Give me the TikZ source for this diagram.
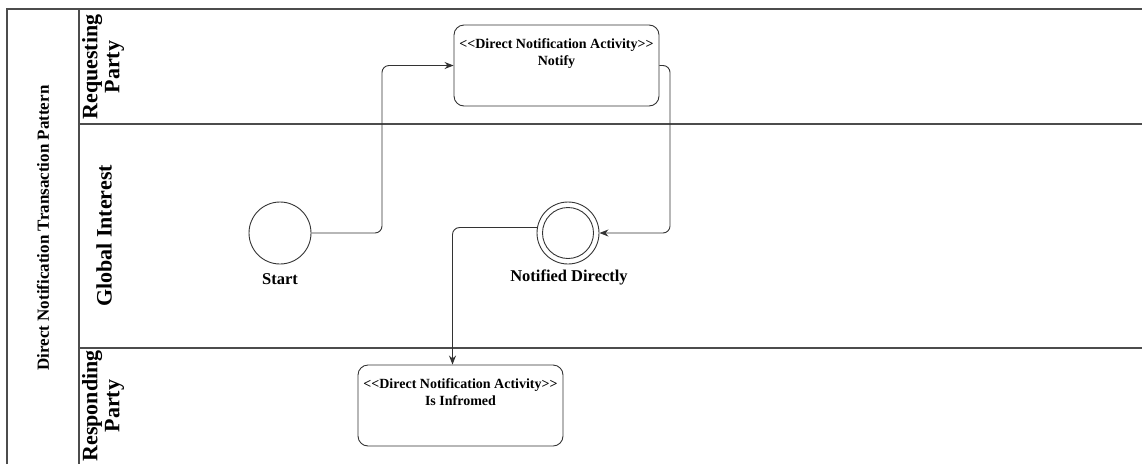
\documentclass[tikz,border=0pt]{standalone}
\usepackage{fontspec}
\setmainfont{Liberation Serif}
\usetikzlibrary{arrows.meta}
\tikzset{
  lane/.style={draw=black!70, line width=1.1pt},
  actbox/.style={draw=black!80, line width=0.9pt, rounded corners=10pt, minimum width=205pt, minimum height=81pt, inner sep=0pt},
  acttext/.style={font=\fontsize{14}{17}\selectfont\bfseries, align=center, inner sep=0pt, anchor=north},
  evt/.style={circle, draw=black!80, line width=0.9pt, inner sep=0pt},
  evtlabel/.style={font=\fontsize{16.5}{19}\selectfont\bfseries, inner sep=0pt},
  lanelabel/.style={font=\fontsize{22}{22}\selectfont\bfseries, align=center, rotate=90, inner sep=0pt},
  flow/.style={draw=black!80, line width=0.9pt, rounded corners=7pt, -{Stealth[length=9pt,width=7pt]}},
}
\begin{document}
\begin{tikzpicture}[x=1pt,y=1pt]
\useasboundingbox (0,0) rectangle (1142,-464);
% pool frame
\coordinate (tl) at (7,-9);
\coordinate (bl) at (7,-464);
\coordinate (tr) at (1142,-9);
\draw[lane] (bl) -- (tl) -- (tr);
\draw[lane] (79,-9) -- (79,-464);
\draw[lane] (79,-124) -- (1142,-124);
\draw[lane] (79,-348) -- (1142,-348);
% labels
\node[font=\fontsize{17}{20}\selectfont\bfseries, rotate=90, inner sep=0pt] (pool) at (43,-228) {Direct Notification Transaction Pattern};
\node[lanelabel] (req) at (103,-67) {Requesting\\Party};
\node[lanelabel] (glob) at (104,-236) {Global Interest};
\node[lanelabel] (resp) at (103,-406) {Responding\\Party};
% nodes
\node[actbox] (notify) at (556.5,-65.5) {};
\node[acttext] at ([yshift=-14pt]notify.north) {{<}{<}Direct Notification Activity{>}{>}\\Notify};
\node[actbox] (inf) at (460.5,-405.5) {};
\node[acttext] at ([yshift=-14pt]inf.north) {{<}{<}Direct Notification Activity{>}{>}\\Is Infromed};
\node[evt, minimum size=62pt] (start) at (280,-233) {};
\node[evtlabel] (startl) at (280,-279) {Start};
\node[evt, minimum size=62pt] (nd) at (568,-233) {};
\node[evt, minimum size=51pt] (ndin) at (568,-233) {};
\node[evtlabel] (ndl) at (569,-277) {Notified Directly};
% flows
\draw[flow] (start.east) -- (382,-233) |- (notify.west);
\draw[flow] (notify.east) -- (670,-65.5) |- (nd.east);
\draw[flow] (nd.170) -| ([xshift=-8pt]inf.north);
\end{tikzpicture}
\end{document}
